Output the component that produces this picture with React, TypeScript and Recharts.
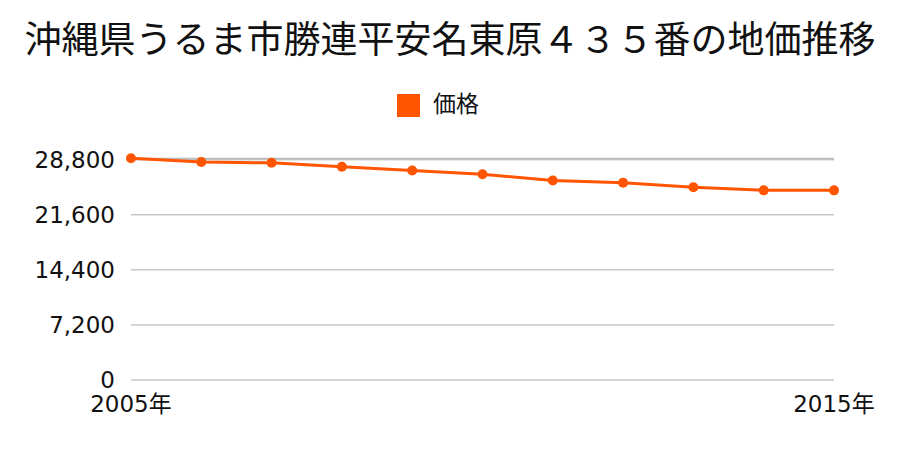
import { LineChart, Line, XAxis, YAxis, CartesianGrid, Legend } from "recharts";

const years = ["2005", "2006", "2007", "2008", "2009", "2010", "2011", "2012", "2013", "2014", "2015"];
const prices = [29000, 28500, 28400, 27900, 27400, 26900, 26100, 25800, 25200, 24800, 24800];
const yTicks = [0, 7200, 14400, 21600, 28800];

const data = years.map((y, i) => ({ year: y, price: prices[i] }));

const FONT = '"Noto Sans CJK JP", sans-serif';
const TICK_FONT = '"DejaVu Sans", "Noto Sans CJK JP", sans-serif';
const ORANGE = "#ff5500";

export default function App() {
  return (
    <div
      style={{
        position: "absolute",
        left: 0,
        top: 0,
        width: 900,
        height: 450,
        background: "#fff",
        fontFamily: FONT,
      }}
    >
      <div
        style={{
          position: "absolute",
          top: 12,
          left: 0,
          width: 900,
          textAlign: "center",
          fontSize: 37,
          lineHeight: "50px",
          color: "#111",
          whiteSpace: "nowrap",
        }}
      >
        沖縄県うるま市勝連平安名東原４３５番の地価推移
      </div>
      <LineChart
        width={900}
        height={450}
        data={data}
        margin={{ top: 129, right: 66, bottom: 40, left: 21 }}
      >
        <CartesianGrid vertical={false} stroke="#aaaaaa" strokeWidth={1} />
        <XAxis
          dataKey="year"
          interval={9}
          axisLine={false}
          tickLine={false}
          tickSize={0}
          tickMargin={16}
          height={30}
          tick={{ fontSize: 23, fill: "#111", fontFamily: TICK_FONT }}
          tickFormatter={(v) => `${v}年`}
        />
        <YAxis
          domain={[0, 28800]}
          ticks={yTicks}
          axisLine={false}
          tickLine={false}
          tickSize={0}
          tickMargin={16}
          width={110}
          tick={{ fontSize: 23, fill: "#111", fontFamily: TICK_FONT }}
          tickFormatter={(v) => v.toLocaleString("en-US")}
        />
        <Legend
          verticalAlign="top"
          align="center"
          iconType="square"
          iconSize={23}
          wrapperStyle={{ top: 88, left: -7, width: 900, fontSize: 23, lineHeight: "28px", fontFamily: FONT }}
          formatter={(value) => <span style={{ color: "#111", marginLeft: 9 }}>{value}</span>}
        />
        <Line
          type="linear"
          dataKey="price"
          name="価格"
          stroke={ORANGE}
          strokeWidth={3}
          dot={{ r: 5, fill: ORANGE, stroke: ORANGE, strokeWidth: 0 }}
          isAnimationActive={false}
        />
      </LineChart>
    </div>
  );
}
